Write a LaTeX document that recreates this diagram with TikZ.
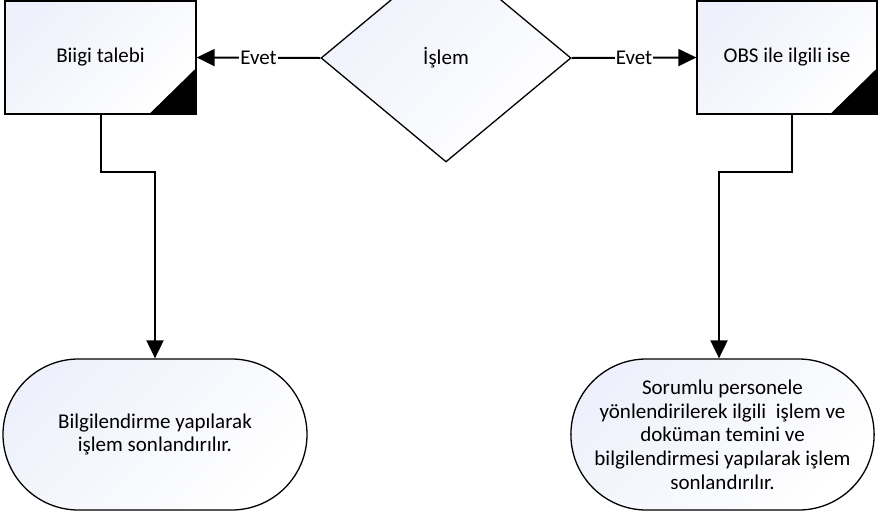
\documentclass[tikz,border=0pt]{standalone}
\usepackage{fontspec}
\setmainfont{Carlito}
\usepackage{tikz}
\usetikzlibrary{arrows.meta,shapes.geometric,shapes.misc}
\definecolor{shadeblue}{RGB}{238,241,251}
\tikzset{
  akis/.style={line width=2pt,-{Triangle[length=18pt,width=17pt]}},
  kutu/.style={draw,line width=1.3pt,top color=shadeblue,bottom color=white,shading angle=45,inner sep=0pt},
  islembox/.style={kutu,rectangle,minimum width=191pt,minimum height=113pt},
  karar/.style={kutu,diamond,minimum width=250pt,minimum height=208pt},
  bitis/.style={kutu,rounded rectangle,minimum width=304pt,minimum height=151pt,align=center},
  etiket/.style={fill=white,inner sep=1pt}
}

\begin{document}
\begin{tikzpicture}[x=1pt,y=-1pt,font=\fontsize{21}{23.7}\selectfont]
  \useasboundingbox (0,0) rectangle (878,515);
  \clip (0,0) rectangle (878,515);
  \node[karar] (islem) at (446,58) {İşlem};
  \node[islembox] (talep) at (100.5,57.5) {Biigi talebi};
  \node[islembox,minimum width=180pt] (obs) at (787,57.5) {OBS ile ilgili ise};
  \foreach \n in {talep,obs}{
    \fill (\n.south east) -- ++(-48,0) -- ++(48,-47) -- cycle;
  }
  \node[bitis] (son1) at (155,434.5) {Bilgilendirme yapılarak\\işlem sonlandırılır.};
  \node[bitis,minimum width=301pt] (son2) at (722.5,434.5) {Sorumlu personele\\yönlendirilerek ilgili~ işlem ve\\doküman temini ve\\bilgilendirmesi yapılarak işlem\\sonlandırılır.};
  \draw[akis] (islem.west) -- node[etiket]{Evet} (talep.east);
  \draw[akis] (islem.east) -- node[etiket]{Evet} (obs.west);
  \draw[akis] (talep.south) -- ++(0,57) -| (son1.north);
  \draw[akis] ([xshift=5pt]obs.south) -- ++(0,57) -| ([xshift=-3.5pt]son2.north);
\end{tikzpicture}
\end{document}
